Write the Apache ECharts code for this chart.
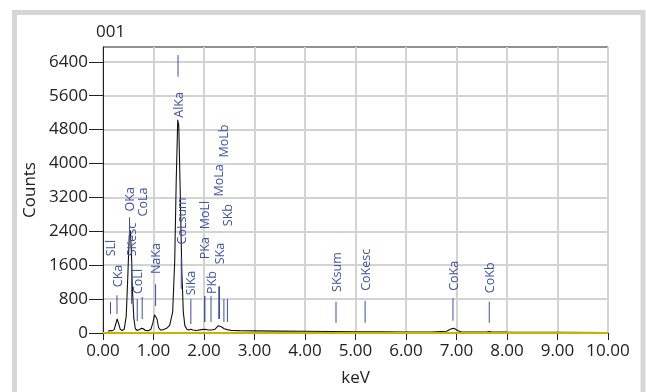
<!DOCTYPE html>
<html>
<head>
<meta charset="utf-8">
<title>001</title>
<script src="https://cdn.jsdelivr.net/npm/echarts@6.0.0/dist/echarts.min.js"></script>
<style>
  html, body { margin: 0; padding: 0; background: #fff; }
  #chart { width: 646px; height: 392px; }
</style>
</head>
<body>
<div id="chart"></div>
<script type="text/javascript">
// spectrum: [keV, counts]
var spectrum = [
  [0.10, 40], [0.14, 60], [0.18, 50], [0.22, 80], [0.25, 200], [0.28, 330],
  [0.31, 220], [0.34, 90], [0.38, 60], [0.42, 90], [0.46, 400], [0.49, 1300],
  [0.52, 2300], [0.54, 2420], [0.56, 2000], [0.58, 1100], [0.61, 350], [0.64, 100],
  [0.68, 60], [0.72, 80], [0.76, 110], [0.80, 100], [0.84, 60], [0.90, 55],
  [0.95, 90], [0.99, 250], [1.02, 430], [1.04, 470], [1.07, 330], [1.10, 130],
  [1.14, 70], [1.20, 80], [1.26, 110], [1.32, 180], [1.38, 500], [1.42, 1700],
  [1.45, 3600], [1.48, 5030], [1.50, 4900], [1.53, 3300], [1.56, 1500], [1.59, 500],
  [1.62, 180], [1.66, 90], [1.70, 70], [1.74, 90], [1.78, 70], [1.85, 60],
  [1.95, 80], [2.02, 90], [2.08, 70], [2.15, 70], [2.22, 90], [2.28, 170],
  [2.31, 180], [2.35, 140], [2.40, 100], [2.46, 80], [2.55, 60], [2.70, 55],
  [3.00, 50], [3.50, 45], [4.00, 40], [4.50, 35], [5.00, 30], [5.50, 28],
  [6.00, 25], [6.50, 25], [6.80, 40], [6.90, 100], [6.95, 110], [7.02, 60],
  [7.10, 25], [7.60, 25], [7.65, 35], [7.70, 25], [8.00, 20], [9.00, 15], [10.00, 12]
];
var background = [[0, 0], [10, 0]];

// element markers
var markerNames  = ["SLl", "CKa", "OKa", "SKesc", "CoLl", "CoLa", "NaKa", "AlKa", "CoLsum", "SiKa",
                    "PKa", "MoLl", "PKb", "MoLa", "SKa", "MoLb", "SKb", "SKsum", "CoKesc", "CoKa", "CoKb"];
var markerEnergy = [0.149, 0.277, 0.525, 0.567, 0.678, 0.776, 1.041, 1.486, 1.55, 1.74,
                    2.013, 2.016, 2.139, 2.293, 2.307, 2.394, 2.464, 4.614, 5.19, 6.93, 7.649];
var markerTop    = [730, 890, 2730, 1690, 800, 850, 1150, 6560, 1790, 800,
                    870, 870, 870, 1100, 1100, 800, 800, 740, 760, 820, 740];
var markerBottom = [450, 450, 2210, 690, 280, 330, 640, 6050, 1040, 210,
                    260, 260, 260, 330, 330, 260, 260, 240, 240, 290, 240];
var markerLabel  = [1810, 1080, 2870, 1810, 920, 2750, 1390, 5080, 2090, 890,
                    1740, 2450, 920, 3220, 1620, 4140, 2520, 970, 995, 995, 940];

var yTicks = [0, 800, 1600, 2400, 3200, 4000, 4800, 5600, 6400];

var markers = markerNames.map(function (n, i) {
  return [markerEnergy[i], markerTop[i], markerBottom[i], markerLabel[i], n];
});

var chart = echarts.init(document.getElementById("chart"));
var font = "'Open Sans', 'Noto Sans', sans-serif";

chart.setOption({
  animation: false,
  textStyle: { fontFamily: font },
  title: {
    text: "001",
    left: 96,
    top: 24,
    padding: 0,
    textStyle: { fontSize: 17, fontWeight: "normal", color: "#222", fontFamily: font }
  },
  graphic: [
    {
      type: "rect",
      shape: { x: 14.5, y: 12.5, width: 628.5, height: 400 },
      style: { fill: "none", stroke: "#d6d6d6", lineWidth: 5 },
      silent: true
    }
  ],
  grid: {
    left: 103, top: 47, right: 38, bottom: 58,
    show: true, borderColor: "#222", borderWidth: 1, backgroundColor: "#fff"
  },
  xAxis: {
    type: "value",
    min: 0, max: 10, interval: 1,
    name: "keV",
    nameLocation: "middle",
    nameGap: 37,
    nameTextStyle: { fontSize: 17, color: "#222" },
    axisLine: { lineStyle: { color: "#222", width: 1 } },
    axisTick: { show: true, length: 7, lineStyle: { color: "#222" } },
    axisLabel: {
      fontSize: 17, color: "#222", margin: 10,
      formatter: function (v) { return v.toFixed(2); }
    },
    splitLine: { show: true, lineStyle: { color: "#d3d3d3", width: 2 } }
  },
  yAxis: {
    type: "value",
    min: 0, max: 6750, interval: 800,
    name: "Counts",
    nameLocation: "middle",
    nameRotate: 90,
    nameGap: 53,
    nameTextStyle: { fontSize: 17, color: "#222" },
    axisLine: { show: true, lineStyle: { color: "#222", width: 1 } },
    axisTick: { show: true, length: 14, customValues: yTicks, lineStyle: { color: "#222" } },
    axisLabel: {
      fontSize: 17, color: "#222", margin: 15, customValues: yTicks,
      formatter: function (v) { return String(v); }
    },
    splitLine: { show: true, lineStyle: { color: "#d3d3d3", width: 2 } }
  },
  series: [
    {
      name: "background",
      type: "line",
      data: background,
      showSymbol: false,
      lineStyle: { color: "#c8b400", width: 2 },
      z: 4
    },
    {
      name: "spectrum",
      type: "line",
      data: spectrum,
      showSymbol: false,
      smooth: false,
      lineStyle: { color: "#111", width: 1.1 },
      z: 3
    },
    {
      name: "markers",
      type: "custom",
      data: markers,
      clip: false,
      z: 5,
      renderItem: function (params, api) {
        var e = api.value(0);
        var p1 = api.coord([e, api.value(1)]);
        var p2 = api.coord([e, api.value(2)]);
        var p3 = api.coord([e, api.value(3)]);
        return {
          type: "group",
          children: [
            {
              type: "line",
              shape: { x1: p1[0], y1: p1[1], x2: p2[0], y2: p2[1] },
              style: { stroke: "#3a4fa6", lineWidth: 1 }
            },
            {
              type: "text",
              x: p3[0] + 1,
              y: p3[1],
              rotation: Math.PI / 2,
              style: {
                text: markers[params.dataIndex][4],
                fill: "#3d52aa",
                font: "12.5px " + font,
                align: "left",
                verticalAlign: "middle"
              }
            }
          ]
        };
      }
    }
  ]
});
</script>
</body>
</html>
